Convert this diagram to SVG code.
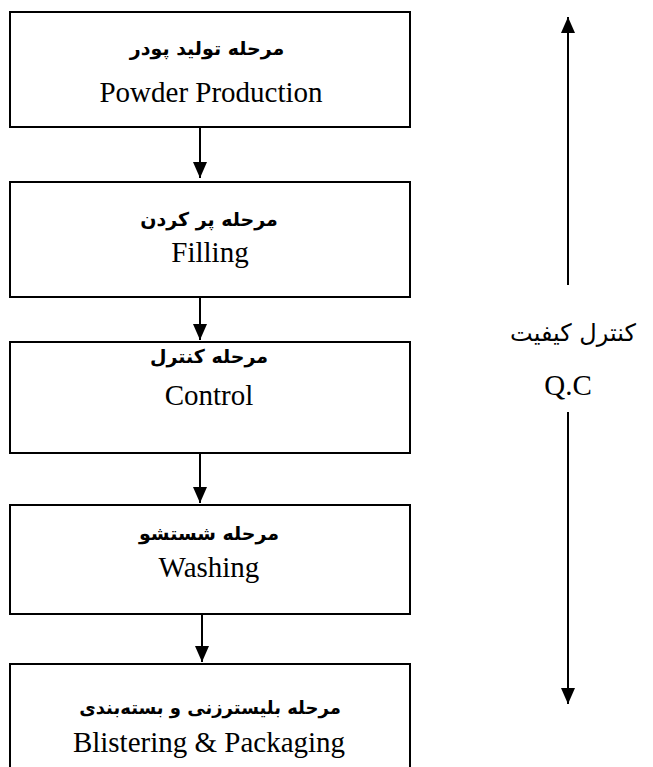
<svg xmlns="http://www.w3.org/2000/svg" width="653" height="767" viewBox="0 0 653 767">
<style>
.box{fill:#fff;stroke:#000;stroke-width:2}
.fa{font-family:"DejaVu Sans",sans-serif;font-weight:bold;font-size:19px;text-anchor:middle;fill:#000}
.en{font-family:"Liberation Serif",serif;font-size:29px;text-anchor:middle;fill:#000}
.qa{font-family:"DejaVu Sans",sans-serif;font-size:24px;text-anchor:middle;fill:#000}
.ln{stroke:#000;stroke-width:2;fill:none}
</style>
<defs>
<marker id="ah" markerWidth="16" markerHeight="16" viewBox="0 0 16 16" refX="16" refY="8" orient="auto" markerUnits="userSpaceOnUse">
<path d="M0,1 L16,8 L0,15 Z" fill="#000"/>
</marker>
</defs>
<g id="connectors">
<line class="ln" x1="200" y1="127" x2="200" y2="178" marker-end="url(#ah)"/>
<line class="ln" x1="200" y1="297" x2="200" y2="340" marker-end="url(#ah)"/>
<line class="ln" x1="200" y1="453" x2="200" y2="503" marker-end="url(#ah)"/>
<line class="ln" x1="202" y1="614" x2="202" y2="662" marker-end="url(#ah)"/>
<line class="ln" x1="568" y1="285" x2="568" y2="17" marker-end="url(#ah)"/>
<line class="ln" x1="568" y1="412" x2="568" y2="704" marker-end="url(#ah)"/>
</g>
<g id="n1">
<rect class="box" x="10" y="12" width="400" height="115"/>
<text class="fa" x="207" y="55" direction="rtl">مرحله تولید پودر</text>
<text class="en" x="211" y="102">Powder Production</text>
</g>
<g id="n2">
<rect class="box" x="10" y="182" width="400" height="115"/>
<text class="fa" x="209" y="226" direction="rtl">مرحله پر کردن</text>
<text class="en" x="210" y="262">Filling</text>
</g>
<g id="n3">
<rect class="box" x="10" y="342" width="400" height="111"/>
<text class="fa" x="209" y="363" direction="rtl">مرحله کنترل</text>
<text class="en" x="209" y="405">Control</text>
</g>
<g id="n4">
<rect class="box" x="10" y="505" width="400" height="109"/>
<text class="fa" x="209" y="540" direction="rtl">مرحله شستشو</text>
<text class="en" x="209" y="577">Washing</text>
</g>
<g id="n5">
<rect class="box" x="10" y="664" width="400" height="110"/>
<text class="fa" x="210" y="714" direction="rtl" style="font-size:18px">مرحله بلیسترزنی و  بسته‌بندی</text>
<text class="en" x="209" y="752">Blistering &amp; Packaging</text>
</g>
<g id="qc">
<text class="qa" x="573" y="341" direction="rtl">کنترل کیفیت</text>
<text class="en" x="568" y="395">Q.C</text>
</g>
</svg>
